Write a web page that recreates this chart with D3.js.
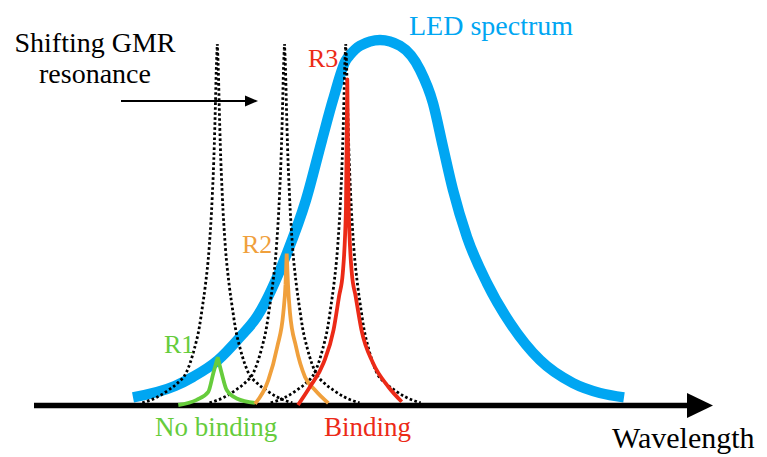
<!DOCTYPE html>
<html>
<head>
<meta charset="utf-8">
<script src="https://cdn.jsdelivr.net/npm/d3@7"></script>
<style>
  html, body { margin: 0; padding: 0; background: #fff; }
  svg { display: block; }
</style>
</head>
<body>
<svg id="chart" width="767" height="457"></svg>
<script>
// LED emission spectrum: wavelength (arbitrary units) and intensity (% of maximum)
const ledWavelength = [98, 140, 158, 183, 205, 222, 252, 271, 287, 298, 311, 315, 325, 345,
                       365, 385, 398, 408, 418, 432, 452, 475, 505, 538, 565, 589];
const ledIntensity  = [2.1, 5.2, 7.7, 12.3, 18.6, 24.2, 41.6, 56.2, 72.6, 83.6, 94.5, 95.9, 98.4, 100,
                       98.4, 91.8, 82.7, 70.7, 58.9, 46.0, 33.4, 22.5, 12.3, 6.0, 3.3, 2.1];

// GMR resonance line shape (one side, mirrored): offset from centre and fraction of peak
const resonanceOffset   = [0, 1, 2, 3, 5, 8, 12, 15, 18, 23, 31, 40, 49, 60, 75];
const resonanceFraction = [1, 0.93, 0.82, 0.72, 0.58, 0.44, 0.33, 0.27, 0.215, 0.155,
                           0.09, 0.06, 0.041, 0.022, 0.006];
const resonanceCenters  = [182.3, 249.5, 310.7];
const resonancePeak     = 98.9;

// Transmitted resonance peaks R1..R3 (LED spectrum filtered by the shifting resonance)
const r1Wavelength = [143.3, 161.7, 173.3, 178.3, 182.7, 186.7, 191.7, 201.7, 220];
const r1Intensity  = [0, 1.4, 3.6, 8.7, 13.1, 8.7, 4.1, 1.8, 0.6];
const r2Wavelength = [220, 233.3, 242.3, 248.3, 250.5, 251.7, 253, 255, 261, 270, 280, 293.3];
const r2Intensity  = [0.3, 6.8, 16.0, 25.2, 32.9, 41.5, 32.9, 25.2, 16.0, 7.7, 4.1, 0.5];
const r3Wavelength = [263, 275, 288.5, 298.5, 304, 307.8, 311, 312.3, 313.6, 316.8, 320.7, 326.5, 338, 353.3, 366.7];
const r3Intensity  = [0, 5.0, 11.5, 20.5, 29.7, 36.2, 54.3, 89.2, 54.3, 36.2, 29.7, 20.5, 11.5, 5.0, 0.9];

const peakNames  = ["R1", "R2", "R3"];
const peakColors = ["#66cc3c", "#f0a03c", "#ec2a17"];
const ledColor   = "#00a6f2";
const textFont   = "'Liberation Serif', 'Times New Roman', serif";

const svg = d3.select("#chart");

const x = d3.scaleLinear().domain([0, 677]).range([35, 712]);
const y = d3.scaleLinear().domain([0, 100]).range([405, 40]);

// Draws a sharp-topped curve: each flank is smoothed separately and joined at the apex
function cuspPath(ws, is) {
  const k = d3.maxIndex(is);
  const pts = ws.map((w, i) => [x(w), y(is[i])]);
  const line = d3.line().curve(d3.curveMonotoneX);
  const left = line(pts.slice(0, k + 1));
  const right = line(pts.slice(k)).replace(/^M[^CL]*/, "");
  return left + right;
}

function label(xp, yp, size, color, str) {
  return svg.append("text")
    .attr("x", xp).attr("y", yp)
    .style("font-family", textFont)
    .attr("font-size", size)
    .attr("fill", color)
    .text(str);
}

// LED spectrum
svg.append("path")
  .attr("d", d3.line().curve(d3.curveMonotoneX)(ledWavelength.map((w, i) => [x(w), y(ledIntensity[i])])))
  .attr("fill", "none")
  .attr("stroke", ledColor)
  .attr("stroke-width", 10.5)
  .attr("stroke-linecap", "butt");

// Wavelength axis with arrowhead
const axisY = 405.5;
svg.append("line")
  .attr("x1", x(-1)).attr("x2", x(656))
  .attr("y1", axisY).attr("y2", axisY)
  .attr("stroke", "#000").attr("stroke-width", 5.5);
svg.append("path")
  .attr("d", `M${x(652)},${axisY - 12.5} L${x(678)},${axisY} L${x(652)},${axisY + 12.5} Z`)
  .attr("fill", "#000");

// Dotted resonance curves at the three positions
resonanceCenters.forEach(c => {
  const n = resonanceOffset.length;
  const ws = [], is = [];
  for (let i = n - 1; i > 0; i--) { ws.push(c - resonanceOffset[i]); is.push(resonancePeak * resonanceFraction[i]); }
  for (let i = 0; i < n; i++) { ws.push(c + resonanceOffset[i]); is.push(resonancePeak * resonanceFraction[i]); }
  svg.append("path")
    .attr("d", cuspPath(ws, is))
    .attr("fill", "none")
    .attr("stroke", "#000")
    .attr("stroke-width", 2.8)
    .attr("stroke-dasharray", "2.6,2.4");
});

// Transmitted peaks
const peaks = [[r1Wavelength, r1Intensity], [r2Wavelength, r2Intensity], [r3Wavelength, r3Intensity]];
peaks.forEach(([ws, is], i) => {
  svg.append("path")
    .attr("d", cuspPath(ws, is))
    .attr("fill", "none")
    .attr("stroke", peakColors[i])
    .attr("stroke-width", 3.8)
    .attr("stroke-linejoin", "bevel");
});

// Peak labels
const peakLabelPos = [[164, 353], [242, 253], [308, 67]];
peakNames.forEach((name, i) => label(peakLabelPos[i][0], peakLabelPos[i][1], 26, peakColors[i], name));

// Shift annotation
label(95, 52, 28, "#000", "Shifting GMR").attr("text-anchor", "middle");
label(95, 83, 28, "#000", "resonance").attr("text-anchor", "middle");
svg.append("line")
  .attr("x1", 121).attr("x2", 247).attr("y1", 101).attr("y2", 101)
  .attr("stroke", "#000").attr("stroke-width", 2.2);
svg.append("path")
  .attr("d", "M245,95.5 L258,101 L245,106.5 Z")
  .attr("fill", "#000");

// Other labels
label(409, 35, 28, ledColor, "LED spectrum");
label(155, 436, 27, peakColors[0], "No binding");
label(324, 436, 27, peakColors[2], "Binding");
label(612, 448, 30, "#000", "Wavelength");
</script>
</body>
</html>
